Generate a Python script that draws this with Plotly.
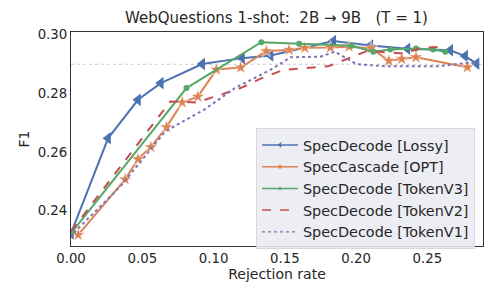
import plotly.graph_objects as go

lossy_x = [0.000, 0.026, 0.047, 0.063, 0.092, 0.120, 0.140, 0.184, 0.210, 0.236, 0.266, 0.2765, 0.2845]
lossy_y = [0.2323, 0.2647, 0.2778, 0.2835, 0.2900, 0.2920, 0.2929, 0.2978, 0.2963, 0.2952, 0.2947, 0.2927, 0.2901]

opt_x = [0.005, 0.038, 0.047, 0.056, 0.067, 0.078, 0.089, 0.102, 0.119, 0.137, 0.153, 0.164, 0.182, 0.195, 0.2105, 0.223, 0.232, 0.242, 0.278]
opt_y = [0.2318, 0.2507, 0.2576, 0.2617, 0.2685, 0.2769, 0.2789, 0.2881, 0.2888, 0.2944, 0.2948, 0.2955, 0.2956, 0.2959, 0.2954, 0.2911, 0.2917, 0.2923, 0.2889]

v3_x = [0.001, 0.081, 0.1335, 0.160, 0.197, 0.212, 0.224, 0.242, 0.254, 0.2625]
v3_y = [0.2329, 0.2818, 0.2974, 0.2969, 0.2962, 0.2942, 0.2949, 0.2953, 0.2949, 0.2942]

v2_x = [0.000, 0.0696, 0.0883, 0.119, 0.133, 0.149, 0.181, 0.208, 0.234, 0.245, 0.258]
v2_y = [0.2330, 0.2772, 0.2769, 0.2818, 0.2850, 0.2880, 0.2893, 0.2945, 0.2935, 0.2955, 0.2958]

v1_x = [0.002, 0.035, 0.066, 0.094, 0.115, 0.141, 0.154, 0.175, 0.185, 0.200, 0.220, 0.257, 0.280, 0.286]
v1_y = [0.2325, 0.2485, 0.2670, 0.2746, 0.2818, 0.2883, 0.2923, 0.2925, 0.2942, 0.2900, 0.2892, 0.2892, 0.2905, 0.2903]

ref_y = 0.2899
x_ticks = [0.00, 0.05, 0.10, 0.15, 0.20, 0.25]
y_ticks = [0.24, 0.26, 0.28, 0.30]

names = ["SpecDecode [Lossy]", "SpecCascade [OPT]", "SpecDecode [TokenV3]", "SpecDecode [TokenV2]", "SpecDecode [TokenV1]"]
colors = ["#4C72B0", "#DD8452", "#55A868", "#C44E52", "#8172B3"]

fig = go.Figure()
fig.add_trace(go.Scatter(x=[0, 0.289], y=[ref_y, ref_y], mode="lines",
                         line=dict(color="#c8c8c8", width=1, dash="dot"),
                         showlegend=False, hoverinfo="skip"))
fig.add_trace(go.Scatter(x=lossy_x, y=lossy_y, mode="lines+markers", showlegend=False,
                         line=dict(color=colors[0], width=2),
                         marker=dict(symbol="triangle-left", size=11, color=colors[0])))
fig.add_trace(go.Scatter(x=opt_x, y=opt_y, mode="lines+markers", showlegend=False,
                         line=dict(color=colors[1], width=2),
                         marker=dict(symbol="star", size=10, color=colors[1],
                                     line=dict(color="white", width=0.5))))
fig.add_trace(go.Scatter(x=v3_x, y=v3_y, mode="lines+markers", showlegend=False,
                         line=dict(color=colors[2], width=2),
                         marker=dict(symbol="circle", size=6, color=colors[2])))
fig.add_trace(go.Scatter(x=v2_x, y=v2_y, mode="lines", showlegend=False,
                         line=dict(color=colors[3], width=2, dash="dash")))
fig.add_trace(go.Scatter(x=v1_x, y=v1_y, mode="lines", showlegend=False,
                         line=dict(color=colors[4], width=2, dash="dot")))

# legend entries (small markers like the reference legend)
fig.add_trace(go.Scatter(x=[None], y=[None], mode="lines+markers", name=names[0],
                         line=dict(color=colors[0], width=1.5),
                         marker=dict(symbol="triangle-left", size=5, color=colors[0])))
fig.add_trace(go.Scatter(x=[None], y=[None], mode="lines+markers", name=names[1],
                         line=dict(color=colors[1], width=1.5),
                         marker=dict(symbol="circle", size=4, color=colors[1])))
fig.add_trace(go.Scatter(x=[None], y=[None], mode="lines+markers", name=names[2],
                         line=dict(color=colors[2], width=1.5),
                         marker=dict(symbol="circle", size=3, color=colors[2])))
fig.add_trace(go.Scatter(x=[None], y=[None], mode="lines", name=names[3],
                         line=dict(color=colors[3], width=1.5, dash="dash")))
fig.add_trace(go.Scatter(x=[None], y=[None], mode="lines", name=names[4],
                         line=dict(color=colors[4], width=1.2, dash="dot")))

fig.update_layout(
    width=500, height=300,
    margin=dict(l=63, r=25, t=24, b=62),
    paper_bgcolor="white", plot_bgcolor="white",
    font=dict(family="DejaVu Sans", size=13, color="#262626"),
    title=dict(text="WebQuestions 1-shot:\u00a0\u00a02B → 9B\u00a0\u00a0\u00a0(T = 1)",
               x=0.537, xanchor="center", y=0.967, yanchor="middle", font=dict(size=15)),
    legend=dict(x=0.449, y=0.551, xanchor="left", yanchor="top",
                bgcolor="rgba(234,234,242,0.85)", bordercolor="#d8d8d8", borderwidth=1,
                font=dict(size=14.4), itemwidth=36),
    showlegend=True,
)
fig.update_xaxes(range=[0, 0.289], tickvals=x_ticks, tickformat=".2f", showgrid=False,
                 zeroline=False, showline=True, linecolor="#333333", linewidth=1.2, mirror=True,
                 ticks="", tickfont=dict(size=13.3),
                 title=dict(text="Rejection rate", standoff=2, font=dict(size=14)))
fig.update_yaxes(range=[0.228, 0.3009], tickvals=y_ticks, tickformat=".2f", showgrid=False,
                 zeroline=False, showline=True, linecolor="#333333", linewidth=1.2, mirror=True,
                 ticks="", tickfont=dict(size=13.3),
                 title=dict(text="F1", standoff=4, font=dict(size=14)))

fig.write_html("out.html")
